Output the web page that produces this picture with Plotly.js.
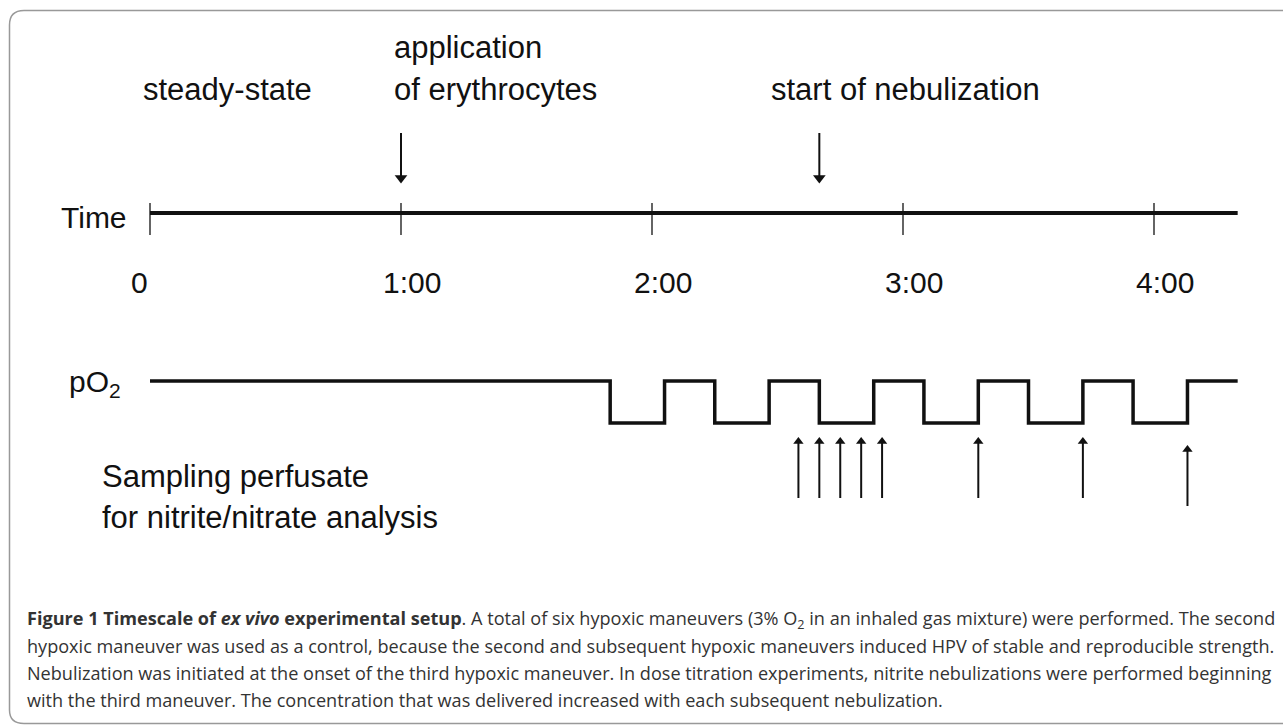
<!DOCTYPE html>
<html><head><meta charset="utf-8">
<script src="https://cdn.plot.ly/plotly-3.0.1.min.js"></script>
<style>html,body{margin:0;padding:0;background:#fff;overflow:hidden}#chart{width:1283px;height:726px}</style>
</head><body><div id="chart"></div>
<script>
// ---------- data ----------
const tickTimes = [0, 60, 120, 180, 240];            // minutes
const tickLabels = ['0', '1:00', '2:00', '3:00', '4:00'];
const timeEnd = 260;                                  // end of time axis (min)
const pO2Switch = [110, 123, 135, 148, 160, 173, 185, 198, 210, 223, 235, 248]; // pO2 level changes (min), starts normoxic
const eventTimes = [60, 160];
const eventLabels = [['application', 'of erythrocytes'], ['start of nebulization']];
const phaseLabel = 'steady-state';
const sampleTimes = [155, 160, 165, 170, 175, 198, 223, 248];
const samplingLabel = ['Sampling perfusate', 'for nitrite/nitrate analysis'];
const captionLines = [
  '<b>Figure 1 Timescale of <i>ex vivo</i> experimental setup</b>. A total of six hypoxic maneuvers (3% O<sub>2</sub> in an inhaled gas mixture) were performed. The second',
  'hypoxic maneuver was used as a control, because the second and subsequent hypoxic maneuvers induced HPV of stable and reproducible strength.',
  'Nebulization was initiated at the onset of the third hypoxic maneuver. In dose titration experiments, nitrite nebulizations were performed beginning',
  'with the third maneuver. The concentration that was delivered increased with each subsequent nebulization.'
];

// ---------- layout constants ----------
const W = 1283, H = 726, X0 = 150, K = 251 / 60;
const TIME_Y = 213, HIGH_Y = 381, LOW_Y = 423;
const FONT = 'Liberation Sans, Arial, sans-serif';
const CAPFONT = 'Open Sans, Noto Sans, sans-serif';
const INK = '#111';

// pO2 square wave
const waveX = [0].concat(pO2Switch, [timeEnd]);
const waveY = waveX.map((_, i) => (i === waveX.length - 1 ? (pO2Switch.length % 2 === 0 ? HIGH_Y : LOW_Y) : (i % 2 === 0 ? HIGH_Y : LOW_Y)));

// arrows (shaft + head)
const downShaftX = [], downShaftY = [];
eventTimes.forEach(t => { downShaftX.push(t, t, null); downShaftY.push(133, 177, null); });
const upShaftX = [], upShaftY = [], upHeadY = [];
sampleTimes.forEach((t, i) => {
  const tip = i === sampleTimes.length - 1 ? 445 : 437;
  upShaftX.push(t, t, null); upShaftY.push(tip + 5, tip + 61, null);
  upHeadY.push(tip + 4.5);
});

const traces = [
  {x: [0, timeEnd], y: [TIME_Y, TIME_Y], mode: 'lines', line: {color: INK, width: 4}, hoverinfo: 'skip', cliponaxis: false},
  {x: waveX, y: waveY, mode: 'lines', line: {color: INK, width: 3.5, shape: 'hv'}, hoverinfo: 'skip', cliponaxis: false},
  {x: downShaftX, y: downShaftY, mode: 'lines', line: {color: INK, width: 2}, hoverinfo: 'skip'},
  {x: eventTimes, y: eventTimes.map(() => 178), mode: 'markers', marker: {symbol: 'triangle-down', size: 11, color: INK}, hoverinfo: 'skip'},
  {x: upShaftX, y: upShaftY, mode: 'lines', line: {color: INK, width: 2}, hoverinfo: 'skip'},
  {x: sampleTimes, y: upHeadY, mode: 'markers', marker: {symbol: 'triangle-up', size: 9, color: INK}, hoverinfo: 'skip'}
];

const shapes = tickTimes.map(t => ({type: 'line', xref: 'x', yref: 'y', x0: t, x1: t, y0: 203, y1: 235, line: {color: INK, width: 1.3}}));
shapes.push({type: 'path', xref: 'x2', yref: 'y',
  path: 'M 1300,10.5 L 24,10.5 Q 9.5,10.5 9.5,25 L 9.5,710 Q 9.5,723.5 24,723.5 L 1300,723.5',
  line: {color: '#999', width: 1.5}});

const annotations = [];
function txt(text, x, y, size) {
  annotations.push({text: text, xref: 'x2', yref: 'y', x: x, y: y, xanchor: 'left', yanchor: 'middle',
    showarrow: false, font: {family: FONT, size: size, color: INK}});
}
txt(phaseLabel, 141, 89.5, 31);
txt(eventLabels[0][0], 392, 47.5, 31);
txt(eventLabels[0][1], 392, 89.5, 31);
txt(eventLabels[1][0], 769, 89.5, 31);
txt('Time', 59, 217.5, 30);
txt('pO<sub>2</sub>', 67, 383, 30);
txt(samplingLabel[0], 100, 476.5, 31);
txt(samplingLabel[1], 100, 517.5, 31);

tickTimes.forEach((t, i) => annotations.push({text: tickLabels[i], xref: 'x', yref: 'y', x: t, y: 282.5, xanchor: 'center', yanchor: 'middle',
  xshift: i === 0 ? -11 : 11, showarrow: false, font: {family: FONT, size: 30, color: INK}}));

const capBase = [626, 653, 680, 707];
captionLines.forEach((c, i) => annotations.push({text: c, xref: 'x2', yref: 'y', x: 25, y: capBase[i] - 7, xanchor: 'left', yanchor: 'middle',
  showarrow: false, font: {family: CAPFONT, size: 18.1, color: '#333'}}));

const layout = {
  width: W, height: H, margin: {l: 0, r: 0, t: 0, b: 0},
  paper_bgcolor: '#fff', plot_bgcolor: '#fff', showlegend: false,
  xaxis: {range: [-X0 / K, (W - X0) / K], visible: false, fixedrange: true},
  xaxis2: {range: [0, W], overlaying: 'x', anchor: 'y', visible: false, fixedrange: true},
  yaxis: {range: [H, 0], visible: false, fixedrange: true},
  shapes: shapes, annotations: annotations
};
Plotly.newPlot('chart', traces, layout, {staticPlot: true, displayModeBar: false});
</script></body></html>
